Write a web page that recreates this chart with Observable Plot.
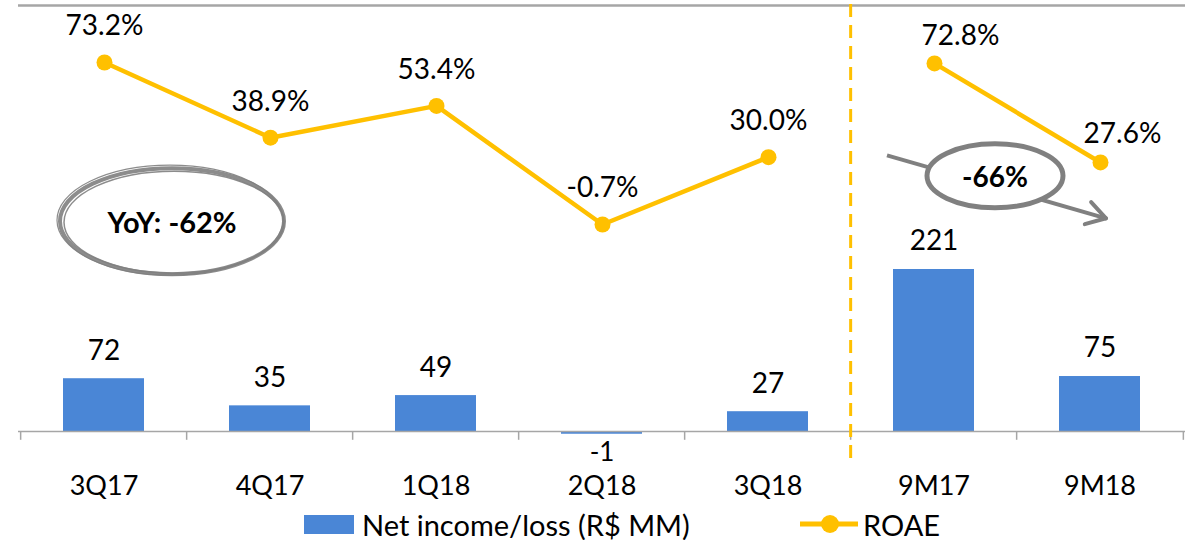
<!DOCTYPE html>
<html><head><meta charset="utf-8">
<script src="https://cdn.jsdelivr.net/npm/d3@7"></script>
<script src="https://cdn.jsdelivr.net/npm/@observablehq/plot@0.6"></script>
<style>
body{margin:0;background:#fff;font-family:Lato,"Open Sans",sans-serif;}
#wrap{position:relative;width:1193px;height:540px;overflow:hidden;}
#wrap svg.layer{position:absolute;left:0;top:0;}
#legend{position:absolute;left:0;top:508px;width:1193px;height:32px;font-family:Lato,sans-serif;font-size:29px;color:#000;}
#legend .item{position:absolute;top:0;display:flex;align-items:center;height:32px;white-space:nowrap;}
</style>
</head><body>
<div id="wrap"></div>
<script>
const categories = ["3Q17","4Q17","1Q18","2Q18","3Q18","9M17","9M18"];
const netIncome = [72, 35, 49, -1, 27, 221, 75];
const roae = [73.2, 38.9, 53.4, -0.7, 30.0, 72.8, 27.6];
const period = ["Q","Q","Q","Q","Q","9M","9M"];
const seriesNames = ["Net income/loss (R$ MM)", "ROAE"];
const annotations = ["YoY: -62%", "-66%"];

const rows = categories.map((c, i) => ({cat: c, ni: netIncome[i], roae: roae[i], period: period[i]}));

const W = 1193, H = 505, ML = 18, MR = 8;
const step = (W - ML - MR) / categories.length;
const blue = "#4A86D6", gold = "#FFC000", gray = "#A6A6A6", dark = "#808080";
const font = "Lato, 'Open Sans', sans-serif";
const xOpt = {domain: categories, paddingInner: 0.51, paddingOuter: 0.255, axis: null};

const bars = Plot.plot({
  width: W, height: H, marginLeft: ML, marginRight: MR, marginTop: 0, marginBottom: 0,
  style: {fontFamily: font, background: "transparent", overflow: "visible"},
  x: xOpt,
  y: {domain: [0, 221], range: [431, 269], axis: null},
  marks: [
    Plot.ruleY([581], {stroke: gray, strokeWidth: 2.5}),
    Plot.barY(rows.filter(d => d.ni >= 0), {x: "cat", y: "ni", fill: blue}),
    Plot.barY(rows.filter(d => d.ni < 0), {x: "cat", y: "ni", fill: blue, insetBottom: -2}),
    Plot.ruleY([0], {stroke: gray, strokeWidth: 1.5}),
    Plot.ruleX(categories, {x: d => d, y1: 0, y2: -12, dx: -step / 2, stroke: gray, strokeWidth: 1.5}),
    Plot.ruleX([categories[categories.length - 1]], {x: d => d, y1: 0, y2: -12, dx: step / 2, stroke: gray, strokeWidth: 1.5}),
    Plot.ruleX([categories[5]], {x: d => d, y1: -37, y2: 588, dx: -step / 2, stroke: gold, strokeWidth: 3, strokeDasharray: "13,8"}),
    Plot.text(rows.filter(d => d.ni >= 0), {x: "cat", y: "ni", text: d => String(d.ni), dy: -28, fontSize: 28, fill: "#000"}),
    Plot.text(rows.filter(d => d.ni < 0), {x: "cat", y: "ni", text: d => String(d.ni), dy: 20, fontSize: 26, fill: "#000"}),
    Plot.text(categories, {x: d => d, y: 0, dy: 55, text: d => d, fontSize: 27, fill: "#000"})
  ]
});
bars.classList.add("layer");

const q = rows.slice(0, 5), m = rows.slice(5);
const line = Plot.plot({
  width: W, height: H, marginLeft: ML, marginRight: MR, marginTop: 0, marginBottom: 0,
  style: {fontFamily: font, background: "transparent", overflow: "visible"},
  x: xOpt,
  y: {domain: [-0.7, 73.2], range: [224, 62], axis: null},
  marks: [
    Plot.line(rows, {x: "cat", y: "roae", z: "period", stroke: gold, strokeWidth: 4.5}),
    Plot.dot(rows, {x: "cat", y: "roae", r: 8, fill: gold}),
    Plot.text(q, {x: "cat", y: "roae", text: d => d.roae.toFixed(1) + "%", dy: -36, fontSize: 28, fill: "#000"}),
    Plot.text(m.slice(0, 1), {x: "cat", y: "roae", text: d => d.roae.toFixed(1) + "%", dx: 26, dy: -27, fontSize: 28, fill: "#000"}),
    Plot.text(m.slice(1), {x: "cat", y: "roae", text: d => d.roae.toFixed(1) + "%", dx: 22, dy: -28, fontSize: 28, fill: "#000"})
  ]
});
line.classList.add("layer");

const wrap = document.getElementById("wrap");
wrap.appendChild(bars);
wrap.appendChild(line);

// annotation layer positioned through the line plot's scales
const sx = line.scale("x"), sy = line.scale("y");
const bw = sx.bandwidth || 0;
const cx = c => sx.apply(c) + bw / 2;
const svg = d3.select(line);
const ann = svg.append("g");

// YoY ellipse (sketchy)
const e1x = cx("3Q17") + 68, e1y = sy.apply(0.6);
[[112, 53, 4, 0], [110, 51, 1.5, 2], [113, 55, 1.2, -2]].forEach(([rx, ry, sw, off]) => {
  ann.append("ellipse").attr("cx", e1x + off).attr("cy", e1y + off * 0.5).attr("rx", rx).attr("ry", ry)
    .attr("fill", "none").attr("stroke", dark).attr("stroke-width", sw).attr("opacity", 0.9);
});
ann.append("text").attr("x", e1x).attr("y", e1y).attr("text-anchor", "middle").attr("dominant-baseline", "central")
  .attr("font-family", font).attr("font-weight", "bold").attr("font-size", 29).text(annotations[0]);

// -66% arrow + ellipse
const ax1 = cx("9M17") - 47, ay1 = sy.apply(30.6);
const ax2 = cx("9M18") + 6, ay2 = sy.apply(1.9);
ann.append("line").attr("x1", ax1).attr("y1", ay1).attr("x2", ax2).attr("y2", ay2)
  .attr("stroke", dark).attr("stroke-width", 4);
const ang = Math.atan2(ay2 - ay1, ax2 - ax1);
[0.55, -0.55].forEach(a => {
  ann.append("line").attr("x1", ax2).attr("y1", ay2)
    .attr("x2", ax2 - 22 * Math.cos(ang + a)).attr("y2", ay2 - 22 * Math.sin(ang + a))
    .attr("stroke", dark).attr("stroke-width", 4).attr("stroke-linecap", "round");
});
const e2x = cx("9M17") + 61, e2y = sy.apply(21.3);
ann.append("ellipse").attr("cx", e2x).attr("cy", e2y).attr("rx", 68).attr("ry", 32)
  .attr("fill", "#fff").attr("stroke", dark).attr("stroke-width", 5);
ann.append("text").attr("x", e2x).attr("y", e2y).attr("text-anchor", "middle").attr("dominant-baseline", "central")
  .attr("font-family", font).attr("font-weight", "bold").attr("font-size", 28).text(annotations[1]);

// legend below
const leg = document.createElement("div");
leg.id = "legend";
leg.innerHTML = `
<div class="item" style="left:304px"><span style="display:inline-block;width:50px;height:19px;background:${blue};margin-right:8px"></span>${seriesNames[0]}</div>
<div class="item" style="left:800px"><svg width="58" height="20" style="margin-right:5px"><line x1="0" y1="10" x2="58" y2="10" stroke="${gold}" stroke-width="5"/><circle cx="30" cy="10" r="9" fill="${gold}"/></svg>${seriesNames[1]}</div>`;
wrap.appendChild(leg);
</script>
</body></html>
